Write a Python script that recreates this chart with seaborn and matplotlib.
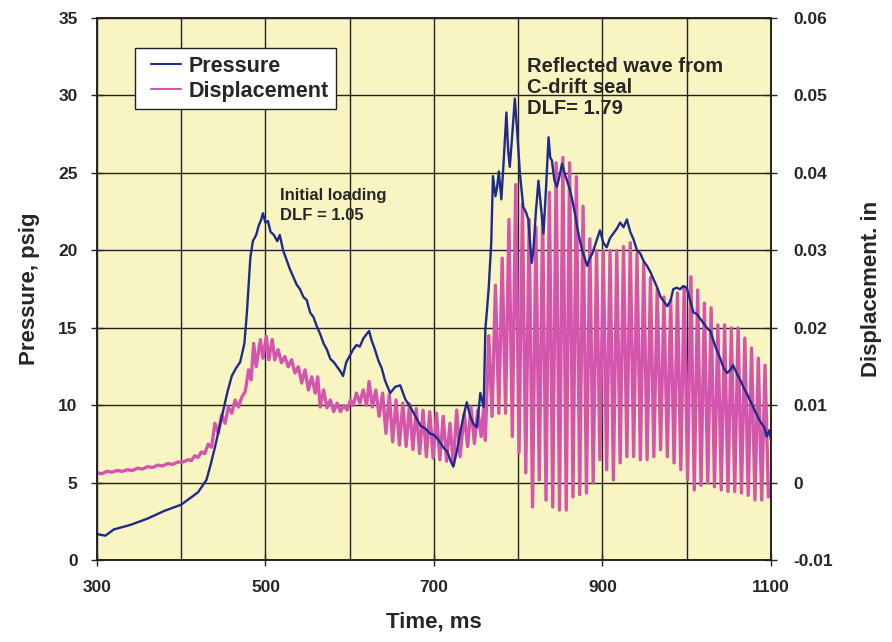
import numpy as np
import pandas as pd
import matplotlib
matplotlib.use("Agg")
from matplotlib import pyplot as plt
from matplotlib.legend_handler import HandlerLine2D
import seaborn as sns

# pressure trace (ms, psig)
p_time = [300, 310, 320, 340, 360, 380, 390, 400, 410, 420, 425, 430, 435, 440, 445, 450,
          455, 460, 465, 470, 475, 478, 482, 485, 489, 492, 495, 497, 500, 503, 506, 510,
          514, 517, 521, 525, 529, 533, 537, 541, 545, 549, 553, 557, 561, 565, 569, 573,
          577, 581, 585, 589, 592, 596, 600, 604, 608, 612, 616, 620, 623, 626, 630, 634,
          638, 642, 648, 654, 660, 666, 672, 678, 684, 690, 695, 700, 705, 711, 716, 720,
          723, 727, 731, 735, 739, 743, 747, 751, 755, 759, 761, 763, 765, 768, 770, 773,
          775, 777, 780, 783, 786, 788, 790, 793, 796, 799, 802, 806, 809, 812, 814, 816,
          818, 821, 824, 827, 830, 833, 836, 838, 840, 843, 846, 849, 852, 855, 858, 861,
          864, 867, 870, 873, 876, 879, 882, 885, 888, 891, 894, 897, 901, 905, 909, 913,
          917, 921, 925, 929, 933, 937, 941, 945, 949, 953, 957, 961, 965, 969, 973, 977,
          981, 984, 988, 992, 996, 1000, 1004, 1008, 1012, 1016, 1020, 1024, 1028, 1034,
          1040, 1044, 1048, 1052, 1055, 1060, 1064, 1068, 1072, 1078, 1084, 1088, 1092,
          1095, 1098, 1100]
pressure = [1.7, 1.6, 2.0, 2.3, 2.7, 3.2, 3.4, 3.6, 4.0, 4.4, 4.8, 5.2, 6.2, 7.3, 8.5, 9.7,
            10.9, 11.9, 12.4, 12.8, 14.0, 16.0, 19.5, 20.6, 21.0, 21.6, 22.0, 22.4, 21.8, 21.9, 21.2, 21.0,
            20.6, 21.0, 20.0, 19.4, 18.8, 18.3, 17.8, 17.5, 17.0, 16.8, 16.0, 15.7, 15.1, 14.6, 14.0, 13.6,
            13.0, 12.8, 12.5, 12.2, 11.9, 12.8, 13.2, 13.6, 13.9, 13.8, 14.3, 14.6, 14.8, 14.2, 13.6, 12.9,
            12.4, 11.6, 10.8, 11.2, 11.3, 10.4, 9.9, 9.3, 8.7, 8.5, 8.2, 8.1, 7.8, 7.3, 7.0, 6.4,
            6.05, 7.0, 8.2, 9.3, 10.2, 9.3, 8.8, 8.6, 10.8, 9.9, 14.9, 16.2, 17.6, 20.5, 24.8, 23.5,
            24.1, 25.1, 23.3, 26.0, 28.9, 26.5, 25.4, 27.5, 29.8, 27.5, 25.0, 22.8, 22.5, 22.0, 20.5, 19.2,
            20.0, 22.5, 24.5, 22.8, 21.1, 24.0, 27.3, 26.0, 25.8, 24.5, 24.1, 24.8, 25.6, 25.0, 24.5, 24.0,
            23.3, 22.5, 21.5, 20.7, 20.0, 19.5, 19.0, 19.5, 19.8, 20.3, 20.8, 21.3, 20.5, 20.2, 20.8, 21.1,
            21.4, 21.8, 21.5, 22.0, 21.2, 20.7, 20.0, 19.8, 19.3, 19.0, 18.6, 18.1, 17.6, 17.0, 16.7, 16.4,
            16.8, 17.5, 17.6, 17.5, 17.7, 17.6, 16.8, 16.0, 15.9, 15.6, 15.3, 15.0, 14.8, 13.8,
            13.0, 12.4, 12.1, 12.3, 12.6, 12.0, 11.6, 11.1, 10.7, 10.0, 9.3, 8.9, 8.6,
            8.0, 8.4, 7.8]

# displacement before the reflected wave (ms, in)
d_time_early = [300, 306, 312, 318, 324, 330, 336, 342, 348, 354, 360, 366, 372, 378, 384, 390,
                396, 402, 408, 412, 416, 420, 424, 428, 432, 436, 440, 444, 448, 452, 456, 460,
                464, 468, 472, 476, 480, 483, 486, 489, 494, 497, 501, 504, 508, 511, 515, 519,
                523, 527, 531, 535, 539, 543, 547, 551, 555, 559, 562, 565, 569, 573, 577, 581,
                585, 589, 593, 597, 601, 604, 608, 612, 616, 620, 623, 627, 631, 635, 639, 643,
                647, 651, 655, 659, 663, 667, 671, 675, 679, 683, 687, 691, 695, 699, 703, 707,
                711, 715, 719, 723, 727, 731, 736, 740, 744, 748, 752, 756, 759, 761]
disp_early = [0.0013, 0.0012, 0.0015, 0.0014, 0.0016, 0.0015, 0.0017, 0.0016, 0.0019, 0.0018, 0.0021, 0.0020,
              0.0023, 0.0022, 0.0025, 0.0024, 0.0027, 0.0027, 0.0030, 0.0029, 0.0035, 0.0033, 0.0040, 0.0038,
              0.0050, 0.0046, 0.0077, 0.0064, 0.0088, 0.0077, 0.0098, 0.0090, 0.0107, 0.0098, 0.0111, 0.0118,
              0.0146, 0.0133, 0.0180, 0.0150, 0.0185, 0.0161, 0.0189, 0.0159, 0.0185, 0.0159, 0.0172, 0.0155,
              0.0163, 0.0150, 0.0159, 0.0142, 0.0150, 0.0129, 0.0146, 0.0120, 0.0137, 0.0116, 0.0137, 0.0098,
              0.0120, 0.0097, 0.0107, 0.0092, 0.0103, 0.0092, 0.0100, 0.0094, 0.0107, 0.0100, 0.0116, 0.0103,
              0.0120, 0.0100, 0.0131, 0.0098, 0.0120, 0.0086, 0.0116, 0.0064, 0.0114, 0.0053, 0.0107, 0.0049,
              0.0103, 0.0047, 0.0102, 0.0043, 0.0096, 0.0038, 0.0094, 0.0034, 0.0092, 0.0032, 0.0090, 0.0030,
              0.0086, 0.0028, 0.0077, 0.0023, 0.0094, 0.0034, 0.0090, 0.0047, 0.0098, 0.0051, 0.0094, 0.0060,
              0.0096, 0.0055]

# large oscillation after 765 ms: crests and troughs
crest_time = [765, 773, 781, 789, 797, 805, 813, 821, 829, 837, 845, 853, 861, 869, 877, 885,
              893, 901, 909, 917, 925, 933, 941, 949, 957, 965, 973, 981, 989, 997, 1005, 1013,
              1021, 1029, 1037, 1045, 1053, 1061, 1069, 1077, 1085, 1093]
crest = [0.0190, 0.0255, 0.0290, 0.0340, 0.0385, 0.0360, 0.0340, 0.0330, 0.0345, 0.0375, 0.0413, 0.0420,
         0.0413, 0.0395, 0.0357, 0.0315, 0.0300, 0.0300, 0.0300, 0.0300, 0.0305, 0.0310, 0.0296, 0.0284,
         0.0265, 0.0250, 0.0240, 0.0236, 0.0245, 0.0253, 0.0266, 0.0249, 0.0232, 0.0226, 0.0204, 0.0204,
         0.0200, 0.0200, 0.0187, 0.0174, 0.0161, 0.0152]
trough_time = [769, 777, 785, 793, 801, 809, 817, 825, 833, 841, 849, 857, 865, 873, 881, 889,
               897, 905, 913, 921, 929, 937, 945, 953, 961, 969, 977, 985, 993, 1001, 1009, 1017,
               1025, 1033, 1041, 1049, 1057, 1065, 1073, 1081, 1089, 1097]
trough = [0.0086, 0.0090, 0.0090, 0.0060, 0.0039, 0.0013, -0.0031, 0.0004, -0.0022, -0.0031, -0.0035, -0.0035,
          -0.0018, -0.0015, -0.0013, 0.0000, 0.0030, 0.0017, 0.0004, 0.0026, 0.0034, 0.0034, 0.0030, 0.0030,
          0.0034, 0.0043, 0.0034, 0.0026, 0.0017, 0.0004, -0.0009, -0.0003, 0.0000, -0.0005, -0.0009, -0.0011,
          -0.0011, -0.0013, -0.0016, -0.0022, -0.0022, -0.0018]

x_ticks = [300, 500, 700, 900, 1100]
p_ticks = [0, 5, 10, 15, 20, 25, 30, 35]
d_ticks = [-0.01, 0, 0.01, 0.02, 0.03, 0.04, 0.05, 0.06]
d_labels = ["-0.01", "0", "0.01", "0.02", "0.03", "0.04", "0.05", "0.06"]

sns.set_style("ticks")
plt.rcParams['font.family'] = ['Liberation Sans', 'DejaVu Sans']
plt.rcParams['font.weight'] = 'bold'

df_p = pd.DataFrame({"time": p_time, "pressure": pressure})
df_d = pd.concat([
    pd.DataFrame({"time": d_time_early, "disp": disp_early}),
    pd.DataFrame({"time": crest_time, "disp": crest}),
    pd.DataFrame({"time": trough_time, "disp": trough}),
]).sort_values("time")

blue = "#1E2A8C"
pink = "#D455AE"
yellow = "#F8F5C2"

fig, ax2 = plt.subplots(figsize=(8.92, 6.42), dpi=100)
ax = ax2.twinx()
# pressure axis on the left and on top, displacement on the right underneath
ax.yaxis.tick_left()
ax.yaxis.set_label_position("left")
ax2.yaxis.tick_right()
ax2.yaxis.set_label_position("right")
ax.set_zorder(ax2.get_zorder() + 1)
ax.patch.set_visible(False)
ax2.set_facecolor(yellow)

sns.lineplot(data=df_d, x="time", y="disp", ax=ax2, color=pink, lw=2.4, sort=False,
             estimator=None, label="Displacement", legend=False)
sns.lineplot(data=df_p, x="time", y="pressure", ax=ax, color=blue, lw=1.7, sort=False,
             estimator=None, label="Pressure", legend=False)

ax.set_xlim(300, 1100)
ax.set_ylim(0, 35)
ax2.set_ylim(-0.01, 0.06)
ax2.set_xticks(x_ticks)
ax2.set_xticks(range(300, 1101, 100), minor=True)
ax.set_yticks(p_ticks)
ax2.set_yticks(d_ticks)
ax2.set_yticklabels(d_labels)

ax2.grid(which="both", axis="x", color="#222222", lw=1.0)
ax2.grid(which="major", axis="y", color="#222222", lw=1.0)
ax2.set_axisbelow(True)

for a in (ax, ax2):
    for s in a.spines.values():
        s.set_visible(True)
        s.set_color("#222222")
        s.set_linewidth(1.2)
ax.tick_params(axis="y", direction="inout", length=8, width=1, pad=10, labelsize=12.5)
ax2.tick_params(axis="y", direction="inout", length=8, width=1, pad=12, labelsize=12.5)
ax2.tick_params(axis="x", which="major", direction="inout", length=8, width=1, pad=10, labelsize=12.5)
ax2.tick_params(axis="x", which="minor", length=0)

ax2.set_xlabel("Time, ms", fontsize=16, fontweight="bold", labelpad=12)
ax.set_ylabel("Pressure, psig", fontsize=16, fontweight="bold", labelpad=13)
ax2.set_ylabel("Displacement. in", fontsize=16, fontweight="bold", labelpad=20)
ax.set_xlabel("")

ax.text(517, 24.0, "Initial loading\nDLF = 1.05", fontsize=12, fontweight="bold",
        va="top", ha="left", linespacing=1.35)
ax.text(811, 32.5, "Reflected wave from\nC-drift seal\nDLF= 1.79", fontsize=14.5, fontweight="bold",
        va="top", ha="left", linespacing=1.15)

h1, l1 = ax.get_legend_handles_labels()
h2, l2 = ax2.get_legend_handles_labels()
hmap = {h: HandlerLine2D(numpoints=2, marker_pad=0.38) for h in h1 + h2}
leg = ax.legend(h1 + h2, l1 + l2, loc="upper left", bbox_to_anchor=(0.0564, 0.9447),
                borderaxespad=0, frameon=True, fancybox=False, edgecolor="#222222", framealpha=1,
                handlelength=2.15, handletextpad=0.0, borderpad=0.35, labelspacing=0.2,
                handler_map=hmap,
                prop={"family": "Liberation Sans", "weight": "bold", "size": 15.5})
leg.get_frame().set_linewidth(1.0)
for ln in leg.get_lines():
    ln.set_linewidth(1.5)

fig.subplots_adjust(left=0.1087, right=0.8643, top=0.972, bottom=0.127)
fig.savefig("out.png", dpi=100, facecolor="white")
